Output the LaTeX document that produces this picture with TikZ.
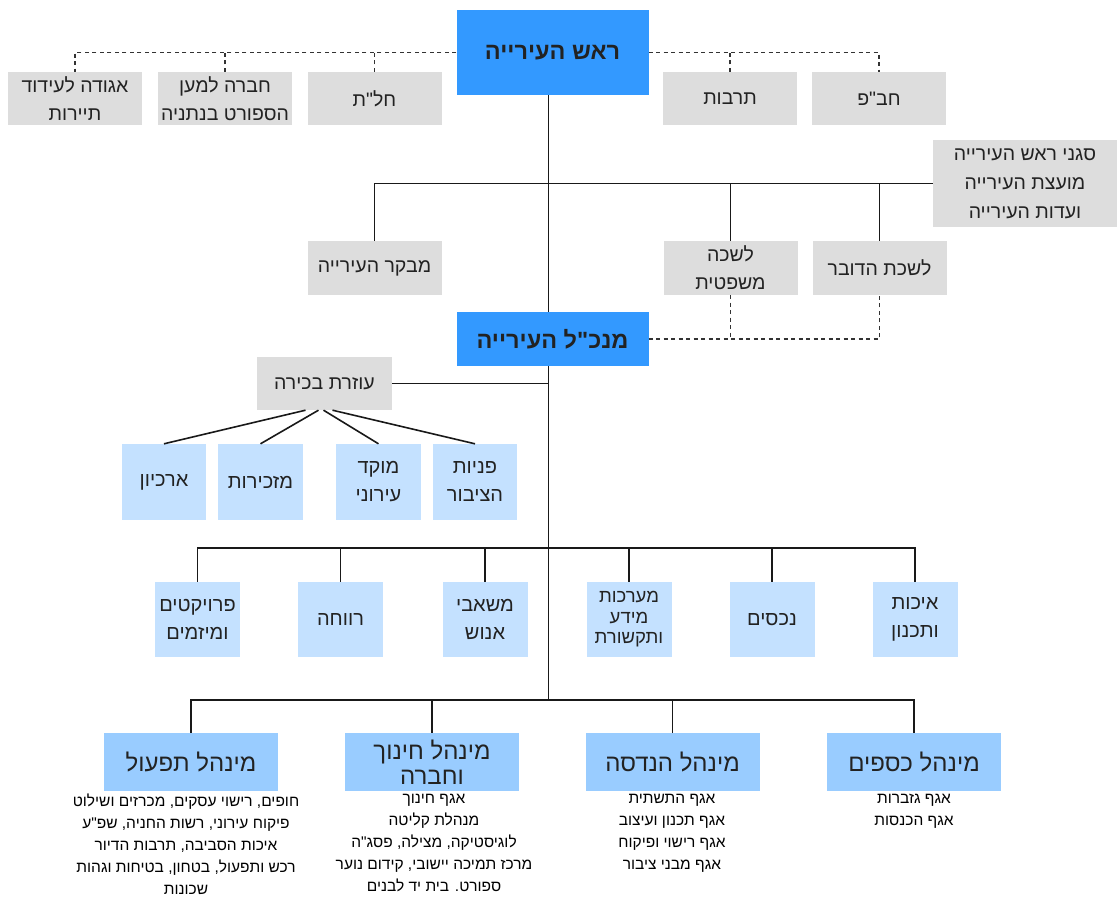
\documentclass[tikz,border=0pt]{standalone}
\usepackage{fontspec}
\setmainfont{Liberation Sans}
\newfontfamily\hebfont[Script=Hebrew]{Liberation Sans}
\TeXXeTstate=1
\newcommand{\hb}[1]{\beginR #1\endR}
\definecolor{topblue}{HTML}{3399FF}
\definecolor{lightblue}{HTML}{C4E1FF}
\definecolor{midblue}{HTML}{99CCFF}
\definecolor{greybox}{HTML}{DDDDDD}
\definecolor{txt}{HTML}{222222}
\tikzset{
  box/.style={inner sep=0pt, align=center, text=txt},
  greyb/.style={box, fill=greybox, minimum width=134pt, minimum height=53pt,
    font=\hebfont\fontsize{19.5}{28}\selectfont},
  headb/.style={box, fill=topblue, minimum width=192pt, font=\hebfont\bfseries\fontsize{23.5}{26}\selectfont},
  unitb/.style={box, fill=lightblue, minimum width=85pt, font=\hebfont\fontsize{20}{28}\selectfont},
  adminb/.style={box, fill=midblue, minimum width=174pt, minimum height=58pt,
    font=\hebfont\fontsize{24}{25}\selectfont},
  subtext/.style={inner sep=0pt, align=center, anchor=north, text=black,
    font=\hebfont\fontsize{15.5}{22}\selectfont},
  conn/.style={draw=black!90, line width=1.6pt},
  dconn/.style={draw=black!80, line width=1.5pt, dash pattern=on 4pt off 3.5pt},
}
\begin{document}
\begin{tikzpicture}[x=1pt,y=-1pt]
\useasboundingbox (0,0) rectangle (1120,899);
\coordinate (sp) at (548.5,0);
\coordinate (r3) at (0,548);
\coordinate (r4) at (0,700);

% top level
\node[headb, minimum height=85pt] (rosh) at (552.5,52.5) {\hb{ראש העירייה}};
\node[greyb] (agudah) at (75,98.5) {\hb{אגודה לעידוד}\\\hb{תיירות}};
\node[greyb] (chevra) at (225,98.5) {\hb{חברה למען}\\\hb{הספורט בנתניה}};
\node[greyb] (chalat) at (374.5,98.5) {\hb{חל"ת}};
\node[greyb] (tarbut) at (730,98.5) {\hb{תרבות}};
\node[greyb] (chabap) at (879,98.5) {\hb{חב"פ}};

\node[greyb, minimum width=184pt, minimum height=87pt, font=\hebfont\fontsize{19.5}{29}\selectfont] (sgani) at (1025,183.5)
  {\hb{סגני ראש העירייה}\\\hb{מועצת העירייה}\\\hb{ועדות העירייה}};
\node[greyb, minimum height=54pt] (mevaker) at (374.5,268) {\hb{מבקר העירייה}};
\node[greyb, minimum height=54pt] (lishka) at (730.5,268) {\hb{לשכה}\\\hb{משפטית}};
\node[greyb, minimum height=54pt] (dover) at (879.5,268) {\hb{לשכת הדובר}};

\node[headb, minimum height=54pt] (mank) at (552.5,339) {\hb{מנכ"ל העירייה}};

\node[greyb, minimum width=135pt] (ozeret) at (324.5,383.5) {\hb{עוזרת בכירה}};
\node[unitb, minimum width=84pt, minimum height=76pt] (archive) at (164,482) {\hb{ארכיון}};
\node[unitb, minimum height=76pt] (mazkirut) at (260.5,482) {\hb{מזכירות}};
\node[unitb, minimum height=76pt] (moked) at (378.5,482) {\hb{מוקד}\\\hb{עירוני}};
\node[unitb, minimum width=84pt, minimum height=76pt] (pniyot) at (475,482) {\hb{פניות}\\\hb{הציבור}};

% row 3
\node[unitb, minimum height=75pt] (proj) at (197.5,619.5) {\hb{פרויקטים}\\\hb{ומיזמים}};
\node[unitb, minimum height=75pt] (revacha) at (340.5,619.5) {\hb{רווחה}};
\node[unitb, minimum height=75pt] (mashabei) at (485,619.5) {\hb{משאבי}\\\hb{אנוש}};
\node[unitb, minimum height=75pt, font=\hebfont\fontsize{18.5}{20.5}\selectfont] (maarachot) at (629,619.5) {\hb{מערכות}\\\hb{מידע}\\\hb{ותקשורת}};
\node[unitb, minimum height=75pt] (nechasim) at (772,619.5) {\hb{נכסים}};
\node[unitb, minimum height=75pt] (ichut) at (915,619.5) {\hb{איכות}\\\hb{ותכנון}};

% row 4
\node[adminb] (tifeul) at (191,762) {\hb{מינהל תפעול}};
\node[adminb] (chinuch) at (432,762) {\hb{מינהל חינוך}\\\hb{וחברה}};
\node[adminb] (handasa) at (672.5,762) {\hb{מינהל הנדסה}};
\node[adminb] (ksafim) at (914,762) {\hb{מינהל כספים}};

\node[subtext] (tifeultxt) at (186,794) {\hb{חופים, רישוי עסקים, מכרזים ושילוט}\\\hb{פיקוח עירוני, רשות החניה, שפ"ע}\\\hb{איכות הסביבה, תרבות הדיור}\\\hb{רכש ותפעול, בטחון, בטיחות וגהות}\\\hb{שכונות}};
\node[subtext] (chinuchtxt) at (434,794) {\hb{אגף חינוך}\\\hb{מנהלת קליטה}\\\hb{לוגיסטיקה, מצילה, פסג"ה}\\\hb{מרכז תמיכה יישובי, קידום נוער}\\\hb{ספורט. בית יד לבנים}};
\node[subtext] (handasatxt) at (672,794) {\hb{אגף התשתית}\\\hb{אגף תכנון ועיצוב}\\\hb{אגף רישוי ופיקוח}\\\hb{אגף מבני ציבור}};
\node[subtext] (ksafimtxt) at (914,794) {\hb{אגף גזברות}\\\hb{אגף הכנסות}};

% dashed connectors
\draw[dconn] (rosh.west) -| (agudah.north);
\draw[dconn] (chevra.north) -- (chevra.north |- rosh.west);
\draw[dconn] (chalat.north) -- (chalat.north |- rosh.west);
\draw[dconn] (rosh.east) -| (chabap.north);
\draw[dconn] (tarbut.north) -- (tarbut.north |- rosh.east);
\draw[dconn] (mank.east) -| (dover.south);
\draw[dconn] (lishka.south) -- (lishka.south |- mank.east);

% solid connectors
\draw[conn] (rosh.south -| sp) -- (mank.north -| sp);
\draw[conn] (mevaker.north) |- (sgani.west);
\draw[conn] (lishka.north) -- (lishka.north |- sgani.west);
\draw[conn] (dover.north) -- (dover.north |- sgani.west);
\draw[conn] (mank.south -| sp) -- (sp |- r4);
\draw[conn] (ozeret.east) -- (ozeret.east -| sp);
\draw[conn] ([xshift=-19pt]ozeret.south) -- (archive.north);
\draw[conn] ([xshift=-6pt]ozeret.south) -- (mazkirut.north);
\draw[conn] ([xshift=-1pt]ozeret.south) -- (moked.north);
\draw[conn] ([xshift=8pt]ozeret.south) -- (pniyot.north);
\draw[conn] (proj.north) -- (proj.north |- r3) -- (ichut.north |- r3) -- (ichut.north);
\foreach \n in {revacha,mashabei,maarachot,nechasim} \draw[conn] (\n.north) -- (\n.north |- r3);
\draw[conn] (tifeul.north) -- (tifeul.north |- r4) -- (ksafim.north |- r4) -- (ksafim.north);
\foreach \n in {chinuch,handasa} \draw[conn] (\n.north) -- (\n.north |- r4);
\end{tikzpicture}
\end{document}
